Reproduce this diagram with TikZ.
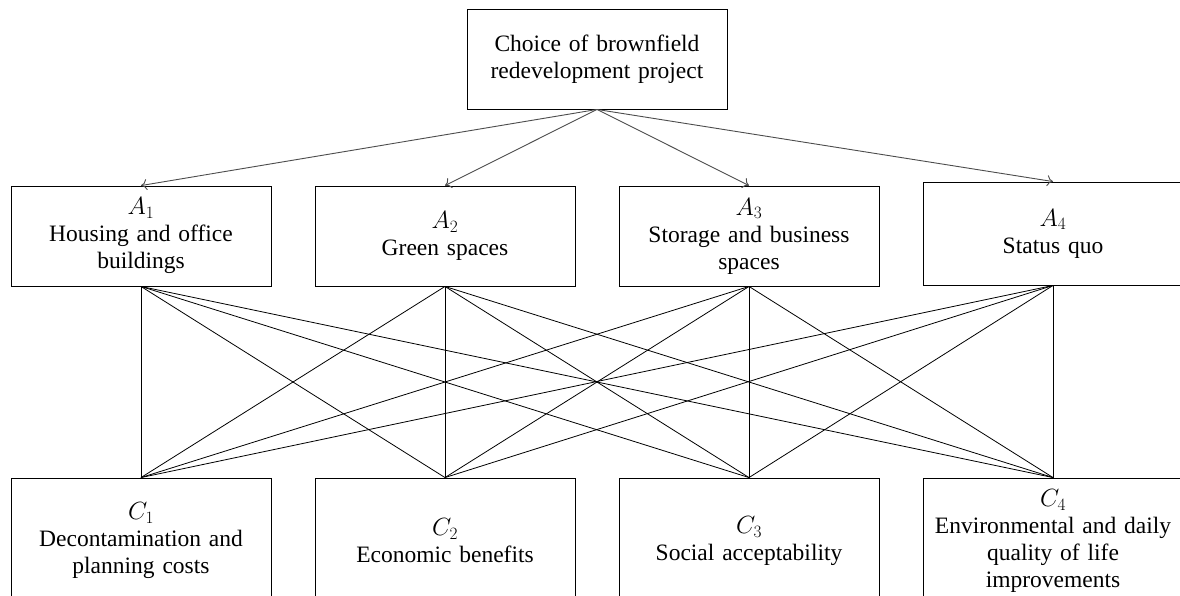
\documentclass[tikz,border=0pt]{standalone}
\usepackage{amsmath}
\usepackage{fontspec}
\setmainfont{Liberation Serif}
\usepackage{tikz}
\usetikzlibrary{arrows.meta}
\tikzset{node distance=304pt, auto}
\tikzset{box/.style={draw, line width=0.9pt, minimum width=260pt, minimum height=100pt,
  text width=250pt, align=center, font=\fontsize{23.5}{27}\selectfont}}

\begin{document}
\begin{tikzpicture}[x=1pt, y=-1pt, node distance=304pt]
		\useasboundingbox (0,0) rectangle (1180,595);
		\clip (0,0) rectangle (1180,595);
		\node[box](G) at (597,59){Choice of brownfield\\redevelopment project};
		\node[box](A1) at (141,236){$A_1$\\Housing and office\\buildings};
		\node[box](A2)[right of=A1]{$A_2$\\Green spaces};
		\node[box](A3)[right of=A2]{$A_3$\\Storage and business\\spaces};
		\node[box, yshift=2.5pt, minimum height=103pt](A4)[right of=A3]{$A_4$\\Status quo};
		\node[box, minimum height=126pt](C1)[below of=A1, node distance=305pt]{$C_1$\\Decontamination and\\planning costs};
		\node[box, minimum height=126pt](C2)[right of=C1]{$C_2$\\Economic benefits};
		\node[box, minimum height=126pt](C3)[right of=C2]{$C_3$\\Social acceptability};
		\node[box, minimum height=126pt](C4)[right of=C3]{$C_4$\\Environmental and daily\\quality of life\\improvements};
		\foreach \a in {1,...,4}
			\draw[-{To[length=6pt, width=11pt]}, line width=0.9pt, black!70](G.south) to (A\a.north);
		\foreach \a in {1,...,4}
			\foreach \c in {1,...,4}
				\draw[line width=0.8pt](A\a.south) to (C\c.north);
	\end{tikzpicture}
\end{document}
